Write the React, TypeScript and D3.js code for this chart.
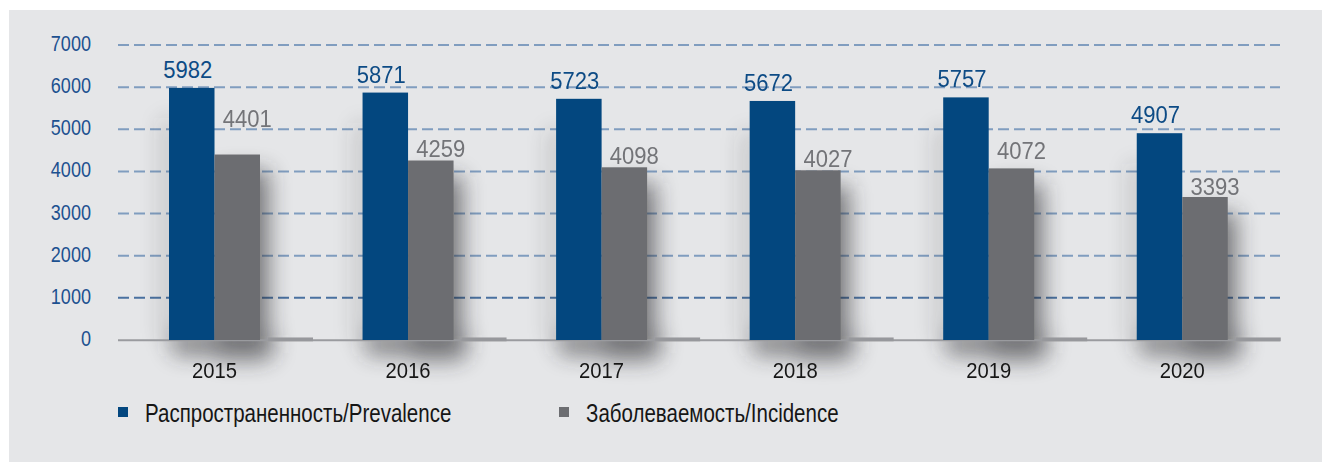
import React from "react";
import * as d3 from "d3";

const years = ["2015", "2016", "2017", "2018", "2019", "2020"];
const prevalence = [5982, 5871, 5723, 5672, 5757, 4907];
const incidence = [4401, 4259, 4098, 4027, 4072, 3393];
const baseValues = [60, 60, 60, 60, 60, 60];
const yTicks = [0, 1000, 2000, 3000, 4000, 5000, 6000, 7000];
const legendLabels = ["Распространенность/Prevalence", "Заболеваемость/Incidence"];
// how far each incidence label sits above its bar (layout nudge)
const incidenceLabelLift = [28, 4, 3, 3, 9, 2];

const W = 1322;
const H = 462;
const BLUE = "#03477f";
const GRAY = "#6c6d71";
const FONT = "'Liberation Sans', Arial, sans-serif";

function T(props: {
  x: number;
  y: number;
  sx: number;
  size: number;
  fill: string;
  anchor?: "start" | "middle" | "end";
  children: React.ReactNode;
}) {
  const { x, y, sx, size, fill, anchor = "start", children } = props;
  return (
    <text
      transform={`translate(${x},${y}) scale(${sx},1)`}
      textAnchor={anchor}
      fontSize={size}
      fill={fill}
    >
      {children}
    </text>
  );
}

export default function App() {
  const x = d3.scaleBand<string>().domain(years).range([118, 1279.3]);
  const y = d3.scaleLinear().domain([0, 7000]).range([340, 45]);
  const sub = d3.scaleBand<string>().domain(["p", "i"]).range([51, 142]);
  const bw = sub.bandwidth();

  return (
    <svg width={W} height={H} style={{ position: "absolute", left: 0, top: 0 }} fontFamily={FONT}>
      <defs>
        <filter id="blur" x="-50%" y="-50%" width="200%" height="200%">
          <feGaussianBlur stdDeviation="11" />
        </filter>
      </defs>
      <rect x={0} y={0} width={W} height={H} fill="#ffffff" />
      <rect x={9} y={10} width={W - 9} height={H - 10} fill="#e5e6e8" />

      {/* gridlines */}
      {yTicks.filter((t) => t > 0).map((t) => (
        <line
          key={t}
          x1={118}
          x2={1280}
          y1={y(t)}
          y2={y(t)}
          stroke={t === 1000 ? "#4a71a0" : "#809dbf"}
          strokeWidth={2}
          strokeDasharray="11 5"
        />
      ))}

      {/* shadows */}
      {years.map((yr, i) => {
        const x0 = (x(yr) as number) + (sub("p") as number);
        const top = y(incidence[i]);
        const lt = Math.min(y(prevalence[i]) + 30, 330);
        return (
          <g key={"s" + yr} filter="url(#blur)" opacity={0.6}>
            <rect x={x0 + 48} y={top + 16} width={bw + 6} height={340 - top + 4} fill="#2a2a2e" />
            <rect x={x0 - 8} y={lt} width={16} height={340 - lt} fill="#2a2a2e" opacity={0.3} />
            <rect x={x0 + 4} y={334} width={bw * 2 + 10} height={20} fill="#2a2a2e" />
          </g>
        );
      })}

      {/* axis line */}
      <line x1={118} x2={1280} y1={340.3} y2={340.3} stroke="#9a9b9f" strokeWidth={2} />
      {years.map((yr, i) => (
        <rect
          key={"b" + yr}
          x={(x(yr) as number) + 150}
          y={y(baseValues[i])}
          width={45}
          height={341.3 - y(baseValues[i])}
          fill="#97989c"
        />
      ))}

      {/* bars */}
      {years.map((yr, i) => {
        const bx = x(yr) as number;
        return (
          <g key={yr}>
            <rect x={bx + (sub("p") as number)} y={y(prevalence[i])} width={bw} height={340 - y(prevalence[i])} fill={BLUE} />
            <rect x={bx + (sub("i") as number)} y={y(incidence[i])} width={bw} height={340 - y(incidence[i])} fill={GRAY} />
          </g>
        );
      })}

      {/* value labels */}
      {years.map((yr, i) => {
        const bx = x(yr) as number;
        return (
          <g key={"l" + yr}>
            <T x={bx + (sub("p") as number) + bw / 2 - 4} y={y(prevalence[i]) - 10} sx={0.9} size={24.5} fill="#0d4b85" anchor="middle">
              {prevalence[i]}
            </T>
            <T x={bx + (sub("i") as number) + bw / 2 + 10} y={y(incidence[i]) - incidenceLabelLift[i]} sx={0.9} size={24.5} fill="#737478" anchor="middle">
              {incidence[i]}
            </T>
          </g>
        );
      })}

      {/* y axis labels */}
      {yTicks.map((t) => (
        <T key={"y" + t} x={91} y={y(t) + 6} sx={0.84} size={21.5} fill="#1d5190" anchor="end">
          {t}
        </T>
      ))}

      {/* x axis labels */}
      {years.map((yr) => (
        <T key={"x" + yr} x={(x(yr) as number) + (sub("p") as number) + bw} y={378} sx={0.9} size={22.5} fill="#161616" anchor="middle">
          {yr}
        </T>
      ))}

      {/* legend */}
      <rect x={118} y={407} width={10} height={10} fill={BLUE} />
      <T x={145} y={422} sx={0.82} size={25} fill="#161616">
        {legendLabels[0]}
      </T>
      <rect x={559} y={407} width={10} height={10} fill={GRAY} />
      <T x={586} y={422} sx={0.82} size={25} fill="#161616">
        {legendLabels[1]}
      </T>
    </svg>
  );
}
